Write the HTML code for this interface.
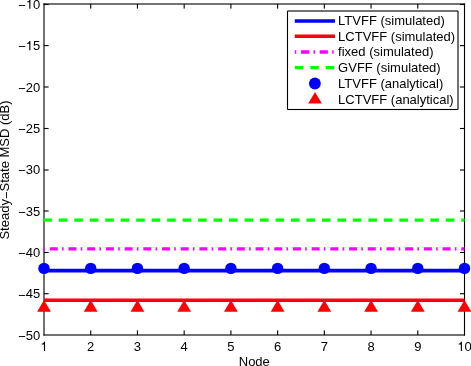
<!DOCTYPE html>
<html><head><meta charset="utf-8"><style>
html,body{margin:0;padding:0;background:#fff;width:471px;height:366px;overflow:hidden}
svg{display:block;will-change:transform}
text{font-family:"Liberation Sans",sans-serif;fill:#000}
</style></head><body>
<svg width="471" height="366" viewBox="0 0 471 366">
<rect width="471" height="366" fill="#fff"/>
<rect x="43.450" y="3.450" width="421.600" height="1.1" fill="#000"/>
<rect x="43.450" y="334.450" width="421.600" height="1.1" fill="#000"/>
<rect x="43.450" y="3.450" width="1.1" height="332.100" fill="#000"/>
<rect x="463.950" y="3.450" width="1.1" height="332.100" fill="#000"/>
<rect x="44.000" y="3.950" width="4.600" height="1.1" fill="#000"/>
<rect x="459.900" y="3.950" width="4.600" height="1.1" fill="#000"/>
<rect x="44.000" y="45.050" width="4.600" height="1.1" fill="#000"/>
<rect x="459.900" y="45.050" width="4.600" height="1.1" fill="#000"/>
<rect x="44.000" y="86.450" width="4.600" height="1.1" fill="#000"/>
<rect x="459.900" y="86.450" width="4.600" height="1.1" fill="#000"/>
<rect x="44.000" y="127.950" width="4.600" height="1.1" fill="#000"/>
<rect x="459.900" y="127.950" width="4.600" height="1.1" fill="#000"/>
<rect x="44.000" y="169.450" width="4.600" height="1.1" fill="#000"/>
<rect x="459.900" y="169.450" width="4.600" height="1.1" fill="#000"/>
<rect x="44.000" y="210.450" width="4.600" height="1.1" fill="#000"/>
<rect x="459.900" y="210.450" width="4.600" height="1.1" fill="#000"/>
<rect x="44.000" y="251.950" width="4.600" height="1.1" fill="#000"/>
<rect x="459.900" y="251.950" width="4.600" height="1.1" fill="#000"/>
<rect x="44.000" y="293.150" width="4.600" height="1.1" fill="#000"/>
<rect x="459.900" y="293.150" width="4.600" height="1.1" fill="#000"/>
<rect x="90.172" y="330.400" width="1.1" height="4.600" fill="#000"/>
<rect x="90.172" y="4.000" width="1.1" height="4.600" fill="#000"/>
<rect x="136.894" y="330.400" width="1.1" height="4.600" fill="#000"/>
<rect x="136.894" y="4.000" width="1.1" height="4.600" fill="#000"/>
<rect x="183.617" y="330.400" width="1.1" height="4.600" fill="#000"/>
<rect x="183.617" y="4.000" width="1.1" height="4.600" fill="#000"/>
<rect x="230.339" y="330.400" width="1.1" height="4.600" fill="#000"/>
<rect x="230.339" y="4.000" width="1.1" height="4.600" fill="#000"/>
<rect x="277.061" y="330.400" width="1.1" height="4.600" fill="#000"/>
<rect x="277.061" y="4.000" width="1.1" height="4.600" fill="#000"/>
<rect x="323.783" y="330.400" width="1.1" height="4.600" fill="#000"/>
<rect x="323.783" y="4.000" width="1.1" height="4.600" fill="#000"/>
<rect x="370.506" y="330.400" width="1.1" height="4.600" fill="#000"/>
<rect x="370.506" y="4.000" width="1.1" height="4.600" fill="#000"/>
<rect x="417.228" y="330.400" width="1.1" height="4.600" fill="#000"/>
<rect x="417.228" y="4.000" width="1.1" height="4.600" fill="#000"/>
<line x1="43.3" y1="220.2" x2="464.5" y2="220.2" stroke="#00ff00" stroke-width="3.2" stroke-dasharray="8.6 6.88"/>
<line x1="43.3" y1="248.9" x2="464.5" y2="248.9" stroke="#ff00ff" stroke-width="3.3" stroke-dasharray="1.6 4.9 8.0 4.205" />
<line x1="44.0" y1="270.6" x2="464.5" y2="270.6" stroke="#0000ff" stroke-width="3.6"/>
<circle cx="44.00" cy="268.4" r="5.7" fill="#0000ff"/>
<circle cx="90.72" cy="268.4" r="5.7" fill="#0000ff"/>
<circle cx="137.44" cy="268.4" r="5.7" fill="#0000ff"/>
<circle cx="184.17" cy="268.4" r="5.7" fill="#0000ff"/>
<circle cx="230.89" cy="268.4" r="5.7" fill="#0000ff"/>
<circle cx="277.61" cy="268.4" r="5.7" fill="#0000ff"/>
<circle cx="324.33" cy="268.4" r="5.7" fill="#0000ff"/>
<circle cx="371.06" cy="268.4" r="5.7" fill="#0000ff"/>
<circle cx="417.78" cy="268.4" r="5.7" fill="#0000ff"/>
<circle cx="464.50" cy="268.4" r="5.7" fill="#0000ff"/>
<line x1="44.0" y1="300.2" x2="464.5" y2="300.2" stroke="#ff0000" stroke-width="3.4"/>
<polygon points="44.00,299.9 50.90,311.8 37.10,311.8" fill="#ff0000"/>
<polygon points="90.72,299.9 97.62,311.8 83.82,311.8" fill="#ff0000"/>
<polygon points="137.44,299.9 144.34,311.8 130.54,311.8" fill="#ff0000"/>
<polygon points="184.17,299.9 191.07,311.8 177.27,311.8" fill="#ff0000"/>
<polygon points="230.89,299.9 237.79,311.8 223.99,311.8" fill="#ff0000"/>
<polygon points="277.61,299.9 284.51,311.8 270.71,311.8" fill="#ff0000"/>
<polygon points="324.33,299.9 331.23,311.8 317.43,311.8" fill="#ff0000"/>
<polygon points="371.06,299.9 377.96,311.8 364.16,311.8" fill="#ff0000"/>
<polygon points="417.78,299.9 424.68,311.8 410.88,311.8" fill="#ff0000"/>
<polygon points="464.50,299.9 471.40,311.8 457.60,311.8" fill="#ff0000"/>
<text x="40.2" y="8.85" text-anchor="end" font-size="13"><tspan dy="1.03">−</tspan><tspan dy="-1.03"> 0</tspan></text>
<path transform="translate(25.74,8.85) scale(0.013,-0.013)" d="M359 703L359 0L271 0L271 500L101 500L101 562C190 568 255 600 283 703Z"/>
<text x="40.2" y="50.23" text-anchor="end" font-size="13"><tspan dy="1.03">−</tspan><tspan dy="-1.03"> 5</tspan></text>
<path transform="translate(25.74,50.23) scale(0.013,-0.013)" d="M359 703L359 0L271 0L271 500L101 500L101 562C190 568 255 600 283 703Z"/>
<text x="40.2" y="91.60" text-anchor="end" font-size="13"><tspan dy="1.03">−</tspan><tspan dy="-1.03">20</tspan></text>
<text x="40.2" y="132.97" text-anchor="end" font-size="13"><tspan dy="1.03">−</tspan><tspan dy="-1.03">25</tspan></text>
<text x="40.2" y="174.35" text-anchor="end" font-size="13"><tspan dy="1.03">−</tspan><tspan dy="-1.03">30</tspan></text>
<text x="40.2" y="215.72" text-anchor="end" font-size="13"><tspan dy="1.03">−</tspan><tspan dy="-1.03">35</tspan></text>
<text x="40.2" y="257.10" text-anchor="end" font-size="13"><tspan dy="1.03">−</tspan><tspan dy="-1.03">40</tspan></text>
<text x="40.2" y="298.48" text-anchor="end" font-size="13"><tspan dy="1.03">−</tspan><tspan dy="-1.03">45</tspan></text>
<text x="40.2" y="339.85" text-anchor="end" font-size="13"><tspan dy="1.03">−</tspan><tspan dy="-1.03">50</tspan></text>
<text x="44.00" y="351" text-anchor="middle" font-size="13"> </text>
<path transform="translate(40.39,351.00) scale(0.013,-0.013)" d="M359 703L359 0L271 0L271 500L101 500L101 562C190 568 255 600 283 703Z"/>
<text x="90.72" y="351" text-anchor="middle" font-size="13">2</text>
<text x="137.44" y="351" text-anchor="middle" font-size="13">3</text>
<text x="184.17" y="351" text-anchor="middle" font-size="13">4</text>
<text x="230.89" y="351" text-anchor="middle" font-size="13">5</text>
<text x="277.61" y="351" text-anchor="middle" font-size="13">6</text>
<text x="324.33" y="351" text-anchor="middle" font-size="13">7</text>
<text x="371.06" y="351" text-anchor="middle" font-size="13">8</text>
<text x="417.78" y="351" text-anchor="middle" font-size="13">9</text>
<text x="464.50" y="351" text-anchor="middle" font-size="13"> 0</text>
<path transform="translate(457.27,351.00) scale(0.013,-0.013)" d="M359 703L359 0L271 0L271 500L101 500L101 562C190 568 255 600 283 703Z"/>
<text x="254.3" y="366" text-anchor="middle" font-size="13">Node</text>
<text transform="translate(9.2,170) rotate(-90)" text-anchor="middle" font-size="13">Steady<tspan dy="1.3">−</tspan><tspan dy="-1.3">State MSD (dB)</tspan></text>
<rect x="287" y="10" width="172" height="100" fill="#fff"/>
<rect x="287.500" y="10.450" width="170.500" height="1.1" fill="#000"/>
<rect x="287.500" y="108.950" width="170.500" height="1.1" fill="#000"/>
<rect x="286.950" y="11.000" width="1.1" height="98.500" fill="#000"/>
<rect x="457.450" y="11.000" width="1.1" height="98.500" fill="#000"/>
<line x1="294.8" y1="21.0" x2="335.0" y2="21.0" stroke="#0000ff" stroke-width="3.6"/>
<line x1="294.8" y1="36.3" x2="335.0" y2="36.3" stroke="#ff0000" stroke-width="3.6"/>
<line x1="294.8" y1="52.0" x2="335.0" y2="52.0" stroke="#ff00ff" stroke-width="3.3" stroke-dasharray="1.5 4.7 8.2 4.3"/>
<line x1="294.8" y1="67.7" x2="335.0" y2="67.7" stroke="#00ff00" stroke-width="3.3" stroke-dasharray="8.5 7"/>
<circle cx="314.9" cy="83.5" r="5.9" fill="#0000ff"/>
<polygon points="315,91.9 321.9,103.6 308.2,103.6" fill="#ff0000"/>
<text x="338.1" y="24.70" font-size="13">LTVFF (simulated)</text>
<text x="338.1" y="40.50" font-size="13">LCTVFF (simulated)</text>
<text x="338.1" y="56.30" font-size="13">fixed (simulated)</text>
<text x="338.1" y="72.10" font-size="13">GVFF (simulated)</text>
<text x="338.1" y="87.90" font-size="13">LTVFF (analytical)</text>
<text x="338.1" y="103.70" font-size="13">LCTVFF (analytical)</text>
</svg>
</body></html>
